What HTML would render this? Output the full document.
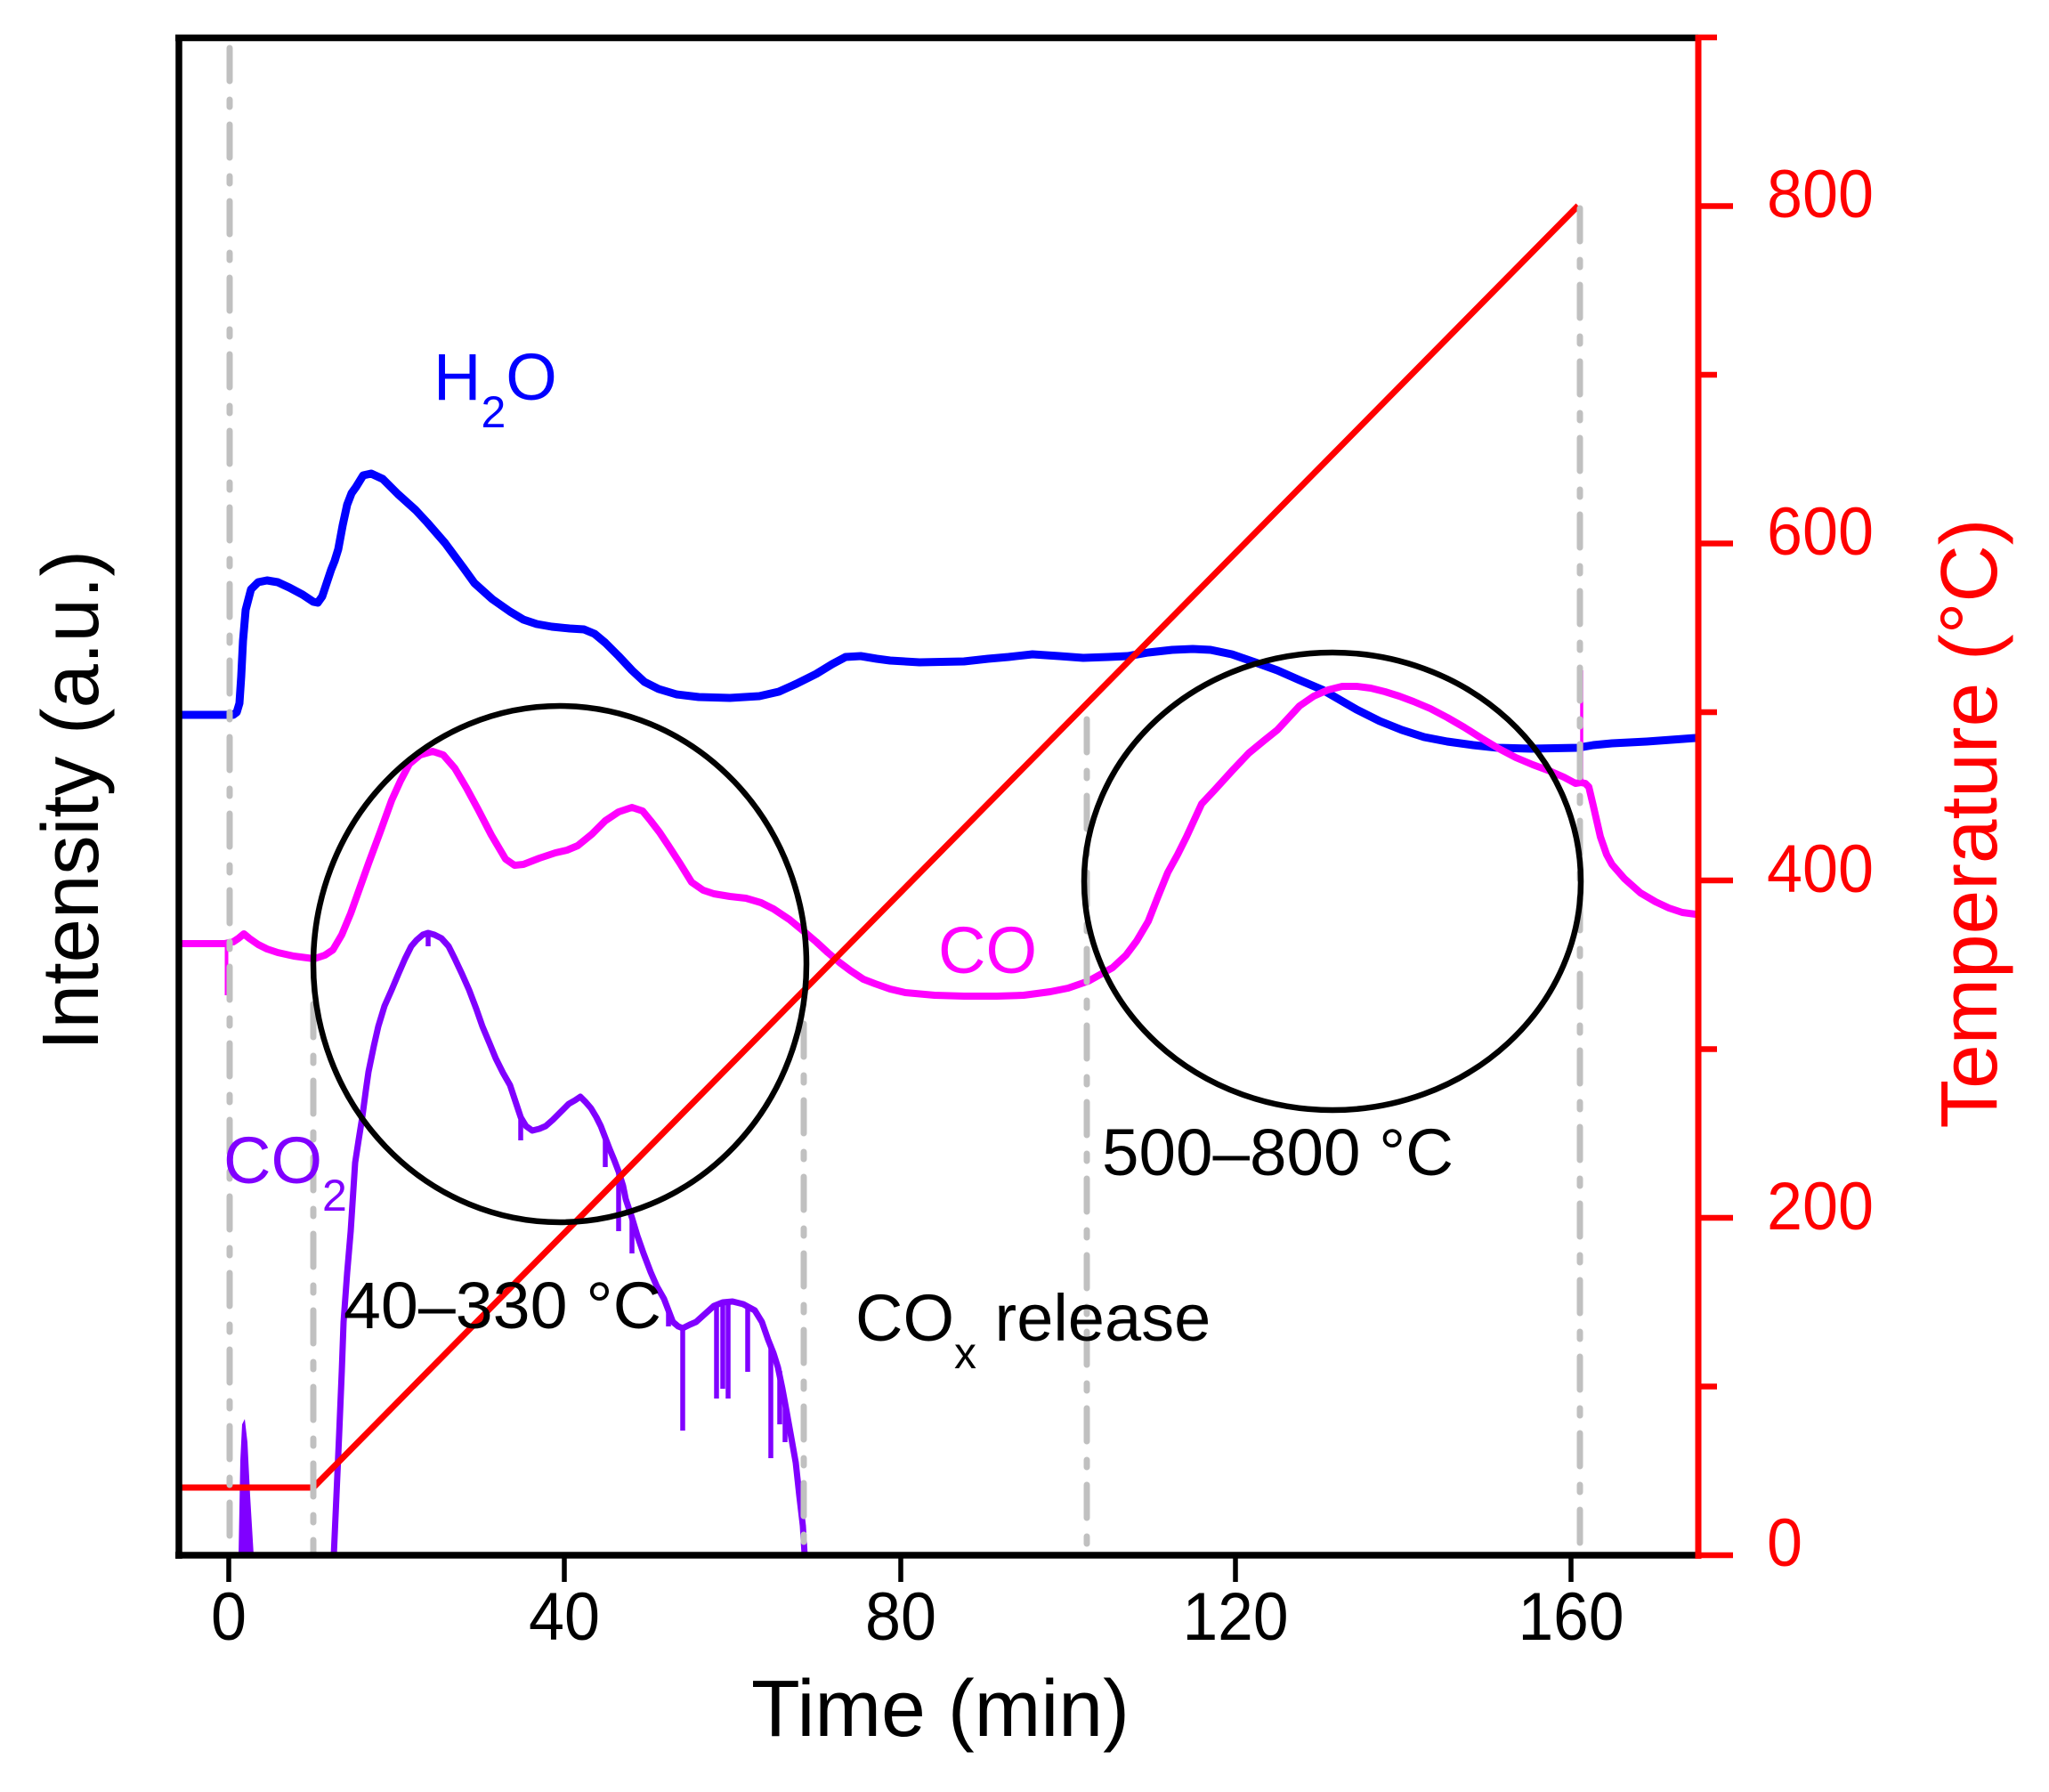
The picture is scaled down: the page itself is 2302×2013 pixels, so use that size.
<!DOCTYPE html>
<html><head><meta charset="utf-8"><style>html,body{margin:0;padding:0;background:#fff}svg{display:block}</style></head>
<body>
<svg width="2302" height="2013" viewBox="0 0 2302 2013" xmlns="http://www.w3.org/2000/svg" font-family="'Liberation Sans', Arial, sans-serif">
<rect width="2302" height="2013" fill="#fff"/>

<!-- H2O -->
<polyline fill="none" stroke="#0000FF" stroke-width="9" stroke-linejoin="round" points="201,803 262,803 266,800 269,790 271,760 273,720 276,685 282,662 290,654 300,652 312,654 325,660 340,668 352,676 357,677 362,670 368,652 372,640 376,630 380,617 385,590 390,567 395,554 400,547 408,534 417,532 430,538 447,555 467,573 480,587 500,610 520,637 533,655 553,673 573,687 588,696 603,701 620,704 640,706 656,707 668,712 680,722 695,737 710,753 724,766 740,774 760,780 785,783 820,784 853,782 875,777 895,768 917,757 935,746 950,738 967,737 985,740 1000,742 1033,744 1083,743 1110,740 1133,738 1160,735 1190,737 1217,739 1245,738 1267,737 1290,733 1317,730 1340,729 1360,730 1384,735 1410,744 1435,753 1460,764 1486,775 1505,786 1524,797 1550,810 1575,820 1600,828 1626,833 1655,837 1683,840 1720,841 1773,840 1790,837 1811,835 1850,833 1905,829"/>

<!-- CO -->
<polyline fill="none" stroke="#FF00FF" stroke-width="8" stroke-linejoin="round" points="201,1060 252,1060 262,1058 268,1054 274,1049 280,1054 290,1061 300,1066 312,1070 330,1074 353,1077 365,1073 374,1067 384,1050 394,1026 404,998 414,970 427,935 440,899 450,877 460,858 472,848 486,844 498,848 511,863 524,885 537,909 552,938 568,965 578,972 588,971 606,964 624,958 637,955 649,950 665,937 680,922 695,912 710,907 722,911 731,922 741,935 751,950 764,970 777,991 790,1000 802,1004 820,1007 838,1009 855,1014 869,1021 887,1033 904,1047 917,1058 930,1070 943,1081 955,1090 970,1100 983,1105 1000,1111 1017,1115 1050,1118 1083,1119 1120,1119 1150,1118 1180,1114 1200,1110 1223,1102 1250,1087 1265,1073 1277,1057 1290,1035 1301,1007 1312,980 1323,960 1333,940 1350,903 1365,887 1385,865 1403,846 1420,832 1435,820 1448,806 1460,793 1476,782 1492,775 1508,771 1524,771 1540,773 1556,777 1572,782 1588,788 1607,796 1626,806 1645,817 1664,829 1684,841 1703,851 1722,859 1741,866 1757,873 1770,880 1776,879 1781,880 1785,884 1790,905 1798,940 1805,960 1811,971 1825,987 1843,1003 1860,1013 1875,1020 1890,1025 1905,1027"/>
<line x1="254.5" y1="1060" x2="254.5" y2="1118" stroke="#FF00FF" stroke-width="4"/>
<line x1="1777" y1="880" x2="1777" y2="753" stroke="#FF00FF" stroke-width="3.5"/>

<!-- CO2 -->
<polygon fill="#8000FF" points="268,1747 270,1640 272,1600 275,1594 278,1620 281,1680 285,1747"/>
<polyline fill="none" stroke="#8000FF" stroke-width="7" stroke-linejoin="round" points="375,1747 378,1680 381,1612 384,1540 386,1485 390,1430 394,1383 399,1306 403,1280 407,1255 411,1225 414,1204 420,1175 425,1153 432,1130 440,1112 448,1093 455,1077 462,1063 468,1056 475,1050 481,1048 488,1050 496,1054 504,1063 511,1077 519,1094 527,1112 535,1133 542,1153 550,1172 557,1189 565,1205 573,1219 579,1237 585,1255 591,1265 598,1270 606,1268 613,1265 621,1258 629,1250 635,1244 639,1240 646,1236 652,1232 658,1238 664,1245 670,1255 675,1265 680,1278 685,1291 690,1303 695,1316 700,1332 703,1347 710,1368 716,1388 723,1408 731,1429 738,1445 746,1459 751,1472 756,1485 762,1490 767,1492 775,1488 782,1485 792,1476 802,1467 812,1463 823,1462 835,1465 848,1472 856,1485 863,1505 869,1520 874,1536 879,1560 884,1587 889,1615 894,1643 898,1680 902,1714 904,1747"/>
<g stroke="#8000FF" stroke-width="5.5">
<line x1="481" y1="1048" x2="481" y2="1063"/>
<line x1="585" y1="1255" x2="585" y2="1281"/>
<line x1="680" y1="1278" x2="680" y2="1311"/>
<line x1="695" y1="1316" x2="695" y2="1383"/>
<line x1="710" y1="1368" x2="710" y2="1408"/>
<line x1="751" y1="1472" x2="751" y2="1490"/>
<line x1="767" y1="1492" x2="767" y2="1607"/>
<line x1="805" y1="1466" x2="805" y2="1571"/>
<line x1="812" y1="1463" x2="812" y2="1560"/>
<line x1="818" y1="1462" x2="818" y2="1571"/>
<line x1="840" y1="1468" x2="840" y2="1541"/>
<line x1="866" y1="1510" x2="866" y2="1638"/>
<line x1="876" y1="1540" x2="876" y2="1600"/>
<line x1="882" y1="1575" x2="882" y2="1620"/>
</g>

<!-- Temperature -->
<polyline fill="none" stroke="#FF0000" stroke-width="7" stroke-linejoin="round" points="201,1671 352,1671 1773,231"/>

<!-- dash-dot guide lines -->
<g stroke="#C0C0C0" stroke-width="7" stroke-linecap="round" stroke-dasharray="37 21 8 20" fill="none">
<line x1="258" y1="54" x2="258" y2="1745"/>
<line x1="352" y1="1128" x2="352" y2="1745"/>
<line x1="903" y1="1150" x2="903" y2="1745"/>
<line x1="1221" y1="808" x2="1221" y2="1745"/>
<line x1="1775" y1="234" x2="1775" y2="1745"/>
</g>

<!-- circles -->
<ellipse cx="629" cy="1083" rx="277" ry="290" fill="none" stroke="#000" stroke-width="6.5"/>
<ellipse cx="1497" cy="990" rx="279" ry="257" fill="none" stroke="#000" stroke-width="6.5"/>

<!-- axes -->
<line x1="197" y1="42.5" x2="1908" y2="42.5" stroke="#000" stroke-width="7.5"/>
<line x1="197" y1="1747" x2="1908" y2="1747" stroke="#000" stroke-width="7.5"/>
<line x1="201" y1="39" x2="201" y2="1751" stroke="#000" stroke-width="7.5"/>
<line x1="1908" y1="39" x2="1908" y2="1751" stroke="#FF0000" stroke-width="7"/>

<!-- x ticks -->
<g stroke="#000" stroke-width="5.5">
<line x1="257" y1="1747" x2="257" y2="1777"/>
<line x1="634" y1="1747" x2="634" y2="1777"/>
<line x1="1012" y1="1747" x2="1012" y2="1777"/>
<line x1="1388" y1="1747" x2="1388" y2="1777"/>
<line x1="1765" y1="1747" x2="1765" y2="1777"/>
</g>
<g font-size="76" text-anchor="middle" fill="#000">
<text x="257" y="1842" textLength="40" lengthAdjust="spacingAndGlyphs">0</text>
<text x="634" y="1842" textLength="80" lengthAdjust="spacingAndGlyphs">40</text>
<text x="1012" y="1842" textLength="80" lengthAdjust="spacingAndGlyphs">80</text>
<text x="1388" y="1842" textLength="119" lengthAdjust="spacingAndGlyphs">120</text>
<text x="1765" y="1842" textLength="119" lengthAdjust="spacingAndGlyphs">160</text>
</g>

<!-- right ticks -->
<g stroke="#FF0000" stroke-width="6.5">
<line x1="1908" y1="1747" x2="1947" y2="1747"/>
<line x1="1908" y1="1368" x2="1947" y2="1368"/>
<line x1="1908" y1="989" x2="1947" y2="989"/>
<line x1="1908" y1="610.5" x2="1947" y2="610.5"/>
<line x1="1908" y1="231.5" x2="1947" y2="231.5"/>
<line x1="1908" y1="1557.5" x2="1929" y2="1557.5"/>
<line x1="1908" y1="1178.5" x2="1929" y2="1178.5"/>
<line x1="1908" y1="800" x2="1929" y2="800"/>
<line x1="1908" y1="421" x2="1929" y2="421"/>
<line x1="1908" y1="42" x2="1929" y2="42"/>
</g>
<g font-size="76" fill="#FF0000">
<text x="1985" y="1759" textLength="40" lengthAdjust="spacingAndGlyphs">0</text>
<text x="1985" y="1381" textLength="120" lengthAdjust="spacingAndGlyphs">200</text>
<text x="1985" y="1002" textLength="120" lengthAdjust="spacingAndGlyphs">400</text>
<text x="1985" y="623" textLength="120" lengthAdjust="spacingAndGlyphs">600</text>
<text x="1985" y="244" textLength="120" lengthAdjust="spacingAndGlyphs">800</text>
</g>

<!-- axis titles -->
<text x="844" y="1950" font-size="90" fill="#000" textLength="425" lengthAdjust="spacingAndGlyphs">Time (min)</text>
<text transform="translate(110,899) rotate(-90)" font-size="90" text-anchor="middle" fill="#000" textLength="562" lengthAdjust="spacingAndGlyphs">Intensity (a.u.)</text>
<text transform="translate(2243,925) rotate(-90)" font-size="90" text-anchor="middle" fill="#FF0000" textLength="685" lengthAdjust="spacingAndGlyphs">Temperature (°C)</text>

<!-- annotations -->
<text x="487" y="449" font-size="74" fill="#0000FF">H<tspan font-size="50" dy="31">2</tspan><tspan font-size="74" dy="-31">O</tspan></text>
<text x="1054" y="1093" font-size="74" fill="#FF00FF">CO</text>
<text x="251" y="1329" font-size="74" fill="#8000FF">CO<tspan font-size="50" dy="31">2</tspan></text>
<text x="386" y="1492" font-size="74" fill="#000" textLength="357" lengthAdjust="spacingAndGlyphs">40–330 °C</text>
<text x="1238" y="1320" font-size="74" fill="#000" textLength="395" lengthAdjust="spacingAndGlyphs">500–800 °C</text>
<text x="961" y="1506" font-size="74" fill="#000">CO<tspan font-size="50" dy="31">x</tspan><tspan font-size="74" dy="-31"> release</tspan></text>
</svg>
</body></html>
